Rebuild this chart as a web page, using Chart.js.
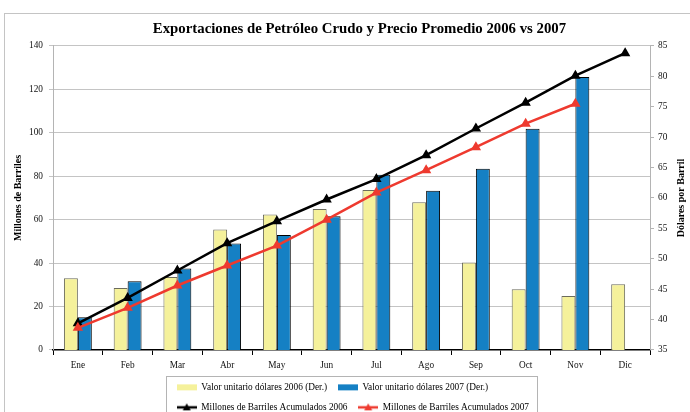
<!DOCTYPE html>
<html>
<head>
<meta charset="utf-8">
<script src="https://cdn.jsdelivr.net/npm/chart.js@4.4.0/dist/chart.umd.min.js"></script>
<style>
  html, body { margin: 0; padding: 0; background: #fff; overflow: hidden; }
  canvas { display: block; }
</style>
</head>
<body>
<canvas id="chartcanvas" width="690" height="422"></canvas>
<script>
// months
var meses = ["Ene", "Feb", "Mar", "Abr", "May", "Jun", "Jul", "Ago", "Sep", "Oct", "Nov", "Dic"];

// dolares por barril (right axis)
var precio2006 = [46.8, 45.2, 47.0, 54.8, 57.3, 58.2, 61.3, 59.3, 49.4, 45.0, 43.9, 45.8];
var precio2007 = [40.4, 46.3, 48.4, 52.5, 53.9, 57.0, 63.8, 61.2, 64.8, 71.4, 79.9, null];

// millones de barriles acumulados (left axis)
var barriles2006 = [12.3, 24.0, 36.6, 49.2, 59.3, 69.3, 78.7, 89.7, 102.0, 113.9, 126.3, 136.7];
var barriles2007 = [10.2, 19.4, 29.7, 38.9, 48.1, 60.0, 72.5, 82.8, 93.4, 104.2, 113.4, null];

var fuente = "'Liberation Serif', 'Times New Roman', serif";

// small swatches for the legend
function swatchRect(color) {
    var c = document.createElement("canvas");
    c.width = 20; c.height = 10;
    var g = c.getContext("2d");
    g.fillStyle = color;
    g.fillRect(0, 2, 20, 6);
    return c;
}
function swatchLine(color) {
    var c = document.createElement("canvas");
    c.width = 20; c.height = 10;
    var g = c.getContext("2d");
    g.strokeStyle = color;
    g.lineWidth = 2.5;
    g.beginPath(); g.moveTo(0, 5); g.lineTo(20, 5); g.stroke();
    g.fillStyle = color;
    g.beginPath(); g.moveTo(10, 1); g.lineTo(14, 8); g.lineTo(6, 8); g.closePath(); g.fill();
    return c;
}
var swatches = [swatchRect("#f5f19b"), swatchRect("#1580c4"), swatchLine("#000"), swatchLine("#ee3a2f")];

// frame, legend box and right axis title
var extras = {
    id: "extras",
    beforeLayout: function(chart) {
        var lg = chart.legend;
        if (lg && !lg._narrow) {
            var orig = lg.update;
            lg.update = function(w, h, m) { return orig.call(this, Math.min(w, 380), h, m); };
            lg._narrow = true;
        }
    },
    afterLayout: function(chart) {
        var lg = chart.legend, a = chart.chartArea;
        var cx = (a.left + a.right) / 2;
        lg.left = cx - 185.5;
        lg.right = lg.left + 395;
        lg.width = 395;
        // title sits a little right of the plot centre
        chart.titleBlock.left += 8;
        chart.titleBlock.right += 8;
    },
    beforeDraw: function(chart) {
        var ctx = chart.ctx;
        ctx.save();
        ctx.strokeStyle = "#c4c4c4";
        ctx.lineWidth = 1;
        ctx.strokeRect(4.5, 13.5, 720, 500);
        ctx.restore();
    },
    afterDraw: function(chart) {
        var ctx = chart.ctx, lg = chart.legend, a = chart.chartArea;
        ctx.save();
        ctx.strokeStyle = "#b4b4b4";
        ctx.lineWidth = 1;
        ctx.strokeRect(Math.round(lg.left) + 0.5, Math.round(lg.top + 4) + 0.5, 371, 100);
        ctx.fillStyle = "#000";
        ctx.font = "bold 10px " + fuente;
        ctx.textAlign = "center";
        ctx.textBaseline = "middle";
        ctx.translate(681.5, (a.top + a.bottom) / 2);
        ctx.rotate(-Math.PI / 2);
        ctx.fillText("Dólares por Barril", 0, 0);
        ctx.restore();
    }
};

var ctx = document.getElementById("chartcanvas");

var chart = new Chart(ctx, {
    type: "bar",
    data: {
        labels: meses,
        datasets: [
            {
                type: "bar",
                label: "Valor unitario dólares 2006 (Der.)",
                data: precio2006,
                backgroundColor: "#f5f19b",
                borderColor: "#6b6b5c",
                borderWidth: 1,
                yAxisID: "y1",
                order: 2
            },
            {
                type: "bar",
                label: "Valor unitario dólares 2007 (Der.)",
                data: precio2007,
                backgroundColor: "#1580c4",
                borderColor: "#000",
                borderWidth: 1,
                yAxisID: "y1",
                order: 2
            },
            {
                type: "line",
                label: "Millones de Barriles Acumulados 2006",
                data: barriles2006,
                borderColor: "#000",
                backgroundColor: "#000",
                borderWidth: 2.5,
                pointStyle: "triangle",
                pointRadius: 3.5,
                tension: 0,
                yAxisID: "y",
                order: 1
            },
            {
                type: "line",
                label: "Millones de Barriles Acumulados 2007",
                data: barriles2007,
                borderColor: "#ee3a2f",
                backgroundColor: "#ee3a2f",
                borderWidth: 2.5,
                pointStyle: "triangle",
                pointRadius: 3.5,
                tension: 0,
                yAxisID: "y",
                order: 0
            }
        ]
    },
    options: {
        responsive: false,
        animation: false,
        layout: { padding: 0 },
        datasets: {
            bar: { categoryPercentage: 0.56, barPercentage: 1.0 }
        },
        scales: {
            x: {
                grid: { offset: true, drawOnChartArea: false, tickLength: 5, color: "#000" },
                border: { color: "#000", width: 1.5 },
                ticks: { color: "#111", font: { family: fuente, size: 9.3 }, padding: 5, maxRotation: 0 },
                afterFit: function(s) { s.height = 22; }
            },
            y: {
                position: "left",
                min: 0,
                max: 140,
                ticks: { stepSize: 20, color: "#111", font: { family: fuente, size: 9.3 }, padding: 6 },
                grid: { color: "#c4c4c4", tickLength: 4 },
                border: { color: "#b4b4b4" },
                title: {
                    display: true,
                    text: "Millones de Barriles",
                    color: "#000",
                    font: { family: fuente, size: 10, weight: "bold" },
                    padding: { top: 12, bottom: 0 }
                },
                afterFit: function(s) { s.width = 53; }
            },
            y1: {
                position: "right",
                min: 35,
                max: 85,
                ticks: { stepSize: 5, color: "#111", font: { family: fuente, size: 9.3 }, padding: 4 },
                grid: { drawOnChartArea: false, color: "#b4b4b4", tickLength: 4 },
                border: { color: "#b4b4b4" },
                afterFit: function(s) { s.width = 40; }
            }
        },
        plugins: {
            title: {
                display: true,
                text: "Exportaciones de Petróleo Crudo y Precio Promedio 2006 vs 2007",
                color: "#000",
                fullSize: false,
                font: { family: fuente, size: 14.8, weight: "bold" },
                padding: { top: 20, bottom: 8.2 }
            },
            legend: {
                display: true,
                position: "bottom",
                align: "start",
                fullSize: false,
                labels: {
                    color: "#000",
                    font: { family: fuente, size: 9.3 },
                    usePointStyle: true,
                    pointStyleWidth: 20,
                    padding: 10.7,
                    sort: function(a, b) { return a.datasetIndex - b.datasetIndex; },
                    generateLabels: function(chart) {
                        var items = Chart.defaults.plugins.legend.labels.generateLabels(chart);
                        items.forEach(function(it) { it.pointStyle = swatches[it.datasetIndex]; });
                        return items;
                    }
                }
            },
            tooltip: { enabled: false }
        }
    },
    plugins: [extras]
});
</script>
</body>
</html>
